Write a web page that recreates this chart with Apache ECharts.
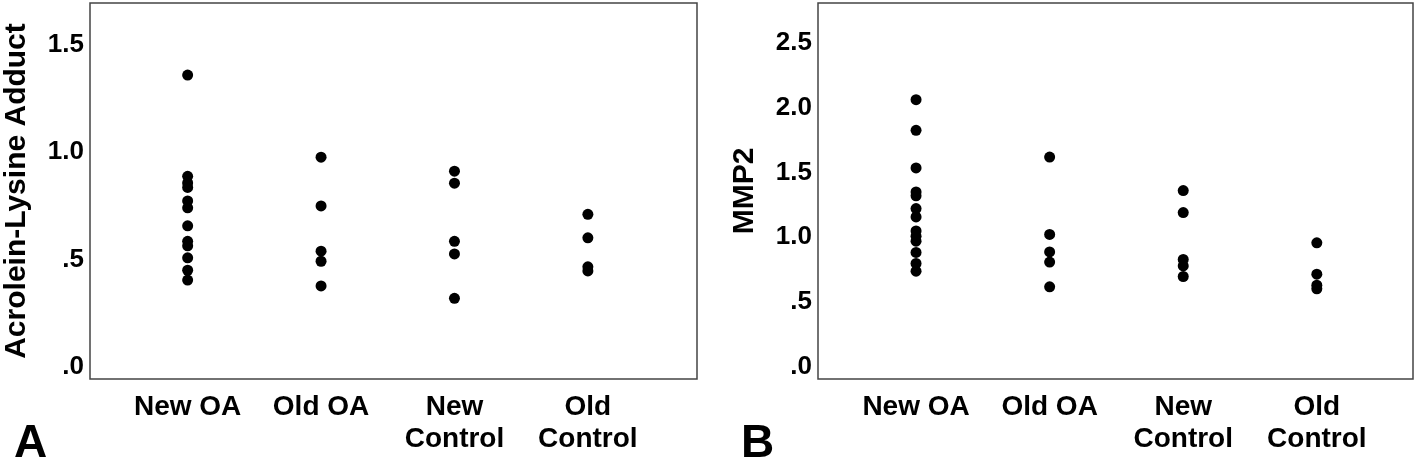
<!DOCTYPE html>
<html><head><meta charset="utf-8">
<script src="https://cdn.jsdelivr.net/npm/echarts@6/dist/echarts.min.js"></script>
<style>html,body{margin:0;padding:0;background:#fff}#c{width:1416px;height:467px}</style>
</head><body><div id="c"></div>
<script>
// Categories and tick labels
const categories = ['New OA', 'Old OA', 'New\nControl', 'Old\nControl'];
const categoryIndex = [0, 1, 2, 3];
const yTickValuesA = [0, 0.5, 1.0, 1.5];
const yTickLabelsA = ['.0', '.5', '1.0', '1.5'];
const yTickValuesB = [0, 0.5, 1.0, 1.5, 2.0, 2.5];
const yTickLabelsB = ['.0', '.5', '1.0', '1.5', '2.0', '2.5'];

// Panel A: Acrolein-Lysine Adduct
const acroNewOA = [1.36, 0.888, 0.857, 0.836, 0.773, 0.741, 0.657, 0.585, 0.564, 0.508, 0.450, 0.404];
const acroOldOA = [0.977, 0.750, 0.539, 0.492, 0.377];
const acroNewControl = [0.912, 0.856, 0.585, 0.526, 0.319];
const acroOldControl = [0.711, 0.601, 0.466, 0.447];

// Panel B: MMP2
const mmpNewOA = [2.063, 1.826, 1.536, 1.350, 1.320, 1.222, 1.157, 1.049, 1.008, 0.970, 0.883, 0.798, 0.738];
const mmpOldOA = [1.620, 1.022, 0.887, 0.808, 0.617];
const mmpNewControl = [1.361, 1.191, 0.829, 0.779, 0.697];
const mmpOldControl = [0.957, 0.715, 0.630, 0.602];

const FONT = '"Liberation Sans", Arial, sans-serif';
const groupsA = [acroNewOA, acroOldOA, acroNewControl, acroOldControl];
const groupsB = [mmpNewOA, mmpOldOA, mmpNewControl, mmpOldControl];

function toPoints(groups) {
  const pts = [];
  groups.forEach((g, i) => g.forEach(v => pts.push([categoryIndex[i], v])));
  return pts;
}

function xAxisDef(gridIndex, min, max) {
  return {
    type: 'value', gridIndex, min, max,
    axisLine: {show: false}, axisTick: {show: false}, splitLine: {show: false},
    axisLabel: {
      customValues: categoryIndex,
      formatter: v => categories[Math.round(v)],
      fontFamily: FONT, fontSize: 28, fontWeight: 'bold', color: '#000',
      lineHeight: 32, margin: 12, verticalAlign: 'top'
    }
  };
}
function yAxisDef(gridIndex, min, max, vals, labels, name) {
  return {
    type: 'value', gridIndex, min, max,
    name, nameLocation: 'middle', nameRotate: 90, nameGap: 58,
    nameTextStyle: {fontFamily: FONT, fontSize: 30, fontWeight: 'bold', color: '#000'},
    axisLine: {show: false}, axisTick: {show: false}, splitLine: {show: false},
    axisLabel: {
      customValues: vals,
      formatter: v => { const i = vals.findIndex(t => Math.abs(t - v) < 1e-6); return i >= 0 ? labels[i] : ''; },
      fontFamily: FONT, fontSize: 26, fontWeight: 'bold', color: '#000', margin: 6
    }
  };
}

const chart = echarts.init(document.getElementById('c'), null, {renderer: 'canvas'});
chart.setOption({
  animation: false,
  backgroundColor: '#fff',
  title: [
    {text: 'A', left: 9, top: 416, textStyle: {fontFamily: FONT, fontSize: 46, fontWeight: 'bold', color: '#000'}},
    {text: 'B', left: 736, top: 416, textStyle: {fontFamily: FONT, fontSize: 46, fontWeight: 'bold', color: '#000'}}
  ],
  grid: [
    {left: 90, width: 607, top: 3, height: 376, show: true, borderColor: '#444', borderWidth: 1.5, backgroundColor: '#fff', containLabel: false, outerBoundsMode: 'none'},
    {left: 818, width: 595, top: 3, height: 376, show: true, borderColor: '#444', borderWidth: 1.5, backgroundColor: '#fff', containLabel: false, outerBoundsMode: 'none'}
  ],
  xAxis: [xAxisDef(0, -0.732, 3.818), xAxisDef(1, -0.734, 3.72)],
  yAxis: [
    yAxisDef(0, -0.057, 1.696, yTickValuesA, yTickLabelsA, 'Acrolein-Lysine Adduct'),
    yAxisDef(1, -0.095, 2.81, yTickValuesB, yTickLabelsB, 'MMP2')
  ],
  series: [
    {type: 'scatter', xAxisIndex: 0, yAxisIndex: 0, data: toPoints(groupsA), symbol: 'circle', symbolSize: 11, itemStyle: {color: '#000', opacity: 1}},
    {type: 'scatter', xAxisIndex: 1, yAxisIndex: 1, data: toPoints(groupsB), symbol: 'circle', symbolSize: 11, itemStyle: {color: '#000', opacity: 1}}
  ]
});
</script>
</body></html>
